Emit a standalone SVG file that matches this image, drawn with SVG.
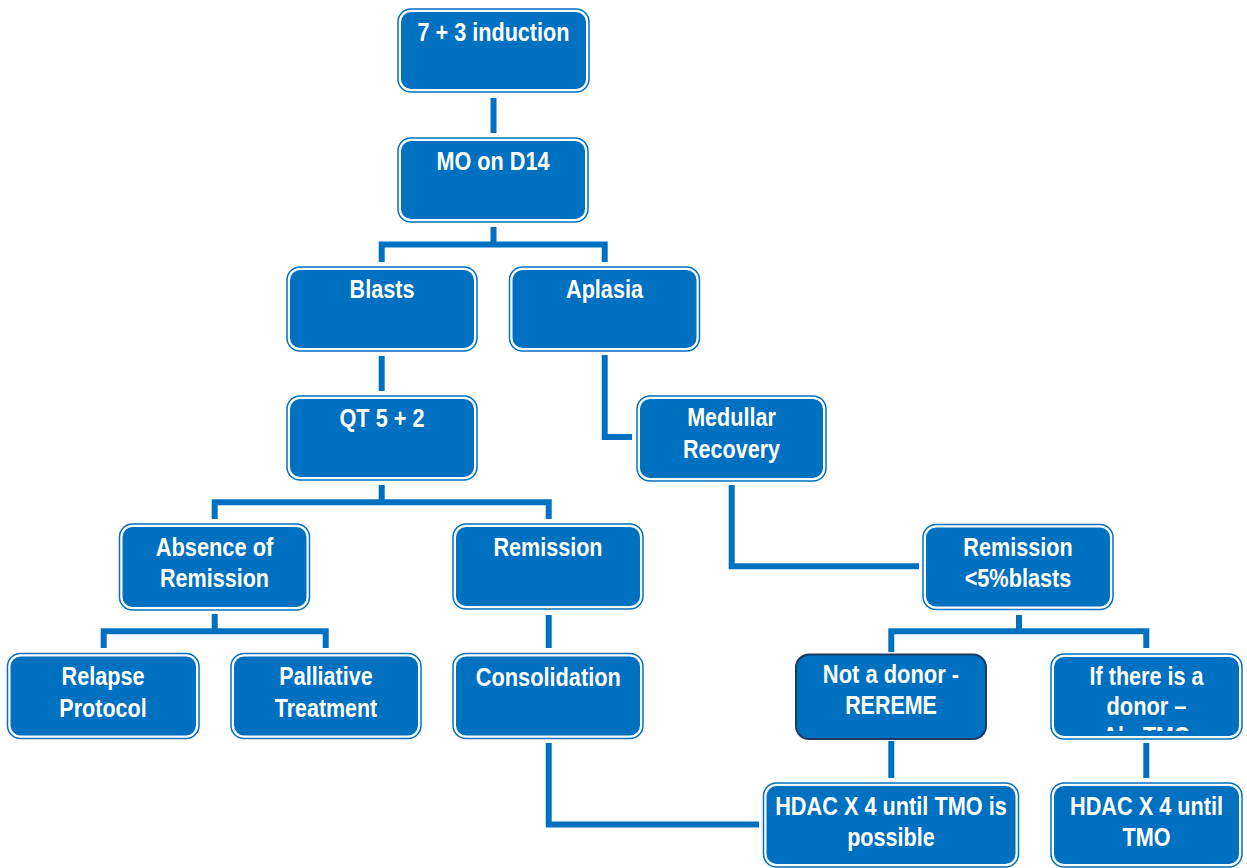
<svg xmlns="http://www.w3.org/2000/svg" width="1247" height="868" viewBox="0 0 1247 868">
<style>
.ob{fill:#ffffff;stroke:#0070C0;stroke-width:1.5}
.ib{fill:#0070C0}
.dk{fill:#0070C0;stroke:#1F3864;stroke-width:2}
.t{font-family:"Liberation Sans Narrow","Liberation Sans",Arial,sans-serif;font-weight:bold;font-size:26px;fill:#ffffff;text-anchor:middle}
.c{fill:none;stroke:#0070C0;stroke-width:6;stroke-linecap:butt;stroke-linejoin:miter}
</style>
<defs>
<clipPath id="clipDonor"><rect x="1054" y="657" width="185" height="74"/></clipPath>
</defs>
<rect x="0" y="0" width="1247" height="868" fill="#ffffff"/>
<g id="connectors">
<path class="c" d="M493.5,98 V133"/>
<path class="c" d="M381.7,262 V244.5 H604.7 V262 M493.5,227 V244.5"/>
<path class="c" d="M381.7,356 V391"/>
<path class="c" d="M604.7,355 V437 H632"/>
<path class="c" d="M731.7,485 V566.3 H919"/>
<path class="c" d="M214.7,519 V502.3 H548.7 V519 M381.7,485 V502.3"/>
<path class="c" d="M103.7,648 V631.3 H325.7 V648 M214.7,614 V631.3"/>
<path class="c" d="M548.7,615 V648"/>
<path class="c" d="M548.7,743 V824.5 H759"/>
<path class="c" d="M891.3,652 V631.3 H1146.3 V648 M1019,615 V631.3"/>
<path class="c" d="M891.3,741 V778"/>
<path class="c" d="M1146.3,743 V778"/>
</g>
<g id="n1">
<rect class="ob" x="398" y="9" width="191" height="83" rx="13"/>
<rect class="ib" x="401" y="12" width="185" height="77" rx="10"/>
<text class="t" x="493.5" y="41" textLength="152" lengthAdjust="spacingAndGlyphs">7 + 3 induction</text>
</g>
<g id="n2">
<rect class="ob" x="398" y="138" width="190" height="84" rx="13"/>
<rect class="ib" x="401" y="141" width="184" height="78" rx="10"/>
<text class="t" x="493" y="170" textLength="113" lengthAdjust="spacingAndGlyphs">MO on D14</text>
</g>
<g id="n3">
<rect class="ob" x="287" y="267" width="190" height="84" rx="13"/>
<rect class="ib" x="290" y="270" width="184" height="78" rx="10"/>
<text class="t" x="382" y="298" textLength="65" lengthAdjust="spacingAndGlyphs">Blasts</text>
</g>
<g id="n4">
<rect class="ob" x="509.5" y="267" width="190" height="84" rx="13"/>
<rect class="ib" x="512.5" y="270" width="184" height="78" rx="10"/>
<text class="t" x="604.5" y="298" textLength="77" lengthAdjust="spacingAndGlyphs">Aplasia</text>
</g>
<g id="n5">
<rect class="ob" x="287" y="396" width="190" height="84" rx="13"/>
<rect class="ib" x="290" y="399" width="184" height="78" rx="10"/>
<text class="t" x="382" y="427" textLength="85" lengthAdjust="spacingAndGlyphs">QT 5 + 2</text>
</g>
<g id="n6">
<rect class="ob" x="637" y="396" width="189" height="85" rx="13"/>
<rect class="ib" x="640" y="399" width="183" height="79" rx="10"/>
<text class="t" x="731.5" y="426" textLength="88.7" lengthAdjust="spacingAndGlyphs">Medullar</text>
<text class="t" x="731.5" y="457.5" textLength="97" lengthAdjust="spacingAndGlyphs">Recovery</text>
</g>
<g id="n7">
<rect class="ob" x="119.5" y="524" width="190" height="86" rx="13"/>
<rect class="ib" x="122.5" y="527" width="184" height="80" rx="10"/>
<text class="t" x="214.5" y="556" textLength="117.7" lengthAdjust="spacingAndGlyphs">Absence of</text>
<text class="t" x="214.5" y="587" textLength="109" lengthAdjust="spacingAndGlyphs">Remission</text>
</g>
<g id="n8">
<rect class="ob" x="453" y="524" width="190" height="85" rx="13"/>
<rect class="ib" x="456" y="527" width="184" height="79" rx="10"/>
<text class="t" x="548" y="556" textLength="109" lengthAdjust="spacingAndGlyphs">Remission</text>
</g>
<g id="n9">
<rect class="ob" x="923" y="524.5" width="190" height="85" rx="13"/>
<rect class="ib" x="926" y="527.5" width="184" height="79" rx="10"/>
<text class="t" x="1018" y="556" textLength="109.3" lengthAdjust="spacingAndGlyphs">Remission</text>
<text class="t" x="1018" y="587" textLength="106.7" lengthAdjust="spacingAndGlyphs">&lt;5%blasts</text>
</g>
<g id="n10">
<rect class="ob" x="7.5" y="653.5" width="191.5" height="85" rx="13"/>
<rect class="ib" x="10.5" y="656.5" width="185.5" height="79" rx="10"/>
<text class="t" x="103" y="685" textLength="83" lengthAdjust="spacingAndGlyphs">Relapse</text>
<text class="t" x="103" y="716.5" textLength="87.3" lengthAdjust="spacingAndGlyphs">Protocol</text>
</g>
<g id="n11">
<rect class="ob" x="231" y="653.5" width="190" height="85" rx="13"/>
<rect class="ib" x="234" y="656.5" width="184" height="79" rx="10"/>
<text class="t" x="326" y="685" textLength="93.3" lengthAdjust="spacingAndGlyphs">Palliative</text>
<text class="t" x="326" y="716.5" textLength="102.3" lengthAdjust="spacingAndGlyphs">Treatment</text>
</g>
<g id="n12">
<rect class="ob" x="453" y="653.5" width="190" height="85" rx="13"/>
<rect class="ib" x="456" y="656.5" width="184" height="79" rx="10"/>
<text class="t" x="548.3" y="686" textLength="145.3" lengthAdjust="spacingAndGlyphs">Consolidation</text>
</g>
<g id="n13">
<rect class="dk" x="796" y="654.5" width="190" height="84.5" rx="13"/>
<text class="t" x="891" y="683" textLength="136.3" lengthAdjust="spacingAndGlyphs">Not a donor -</text>
<text class="t" x="891" y="713.5" textLength="91.7" lengthAdjust="spacingAndGlyphs">REREME</text>
</g>
<g id="n14">
<rect class="ob" x="1051" y="654" width="191" height="85" rx="13"/>
<rect class="ib" x="1054" y="657" width="185" height="79" rx="10"/>
<text class="t" x="1146.5" y="684.5" textLength="114" lengthAdjust="spacingAndGlyphs">If there is a</text>
<text class="t" x="1146.5" y="714.5" textLength="80" lengthAdjust="spacingAndGlyphs">donor –</text>
<text class="t" x="1146.5" y="745" textLength="88" lengthAdjust="spacingAndGlyphs" clip-path="url(#clipDonor)">Alo TMO</text>
</g>
<g id="n15">
<rect class="ob" x="763.5" y="783" width="255" height="84" rx="13"/>
<rect class="ib" x="766.5" y="786" width="249" height="78" rx="10"/>
<text class="t" x="891" y="815" textLength="231.7" lengthAdjust="spacingAndGlyphs">HDAC X 4 until TMO is</text>
<text class="t" x="891" y="846" textLength="87.7" lengthAdjust="spacingAndGlyphs">possible</text>
</g>
<g id="n16">
<rect class="ob" x="1051" y="783" width="191" height="84" rx="13"/>
<rect class="ib" x="1054" y="786" width="185" height="78" rx="10"/>
<text class="t" x="1146.5" y="815" textLength="153" lengthAdjust="spacingAndGlyphs">HDAC X 4 until</text>
<text class="t" x="1146.5" y="846" textLength="48" lengthAdjust="spacingAndGlyphs">TMO</text>
</g>
</svg>
